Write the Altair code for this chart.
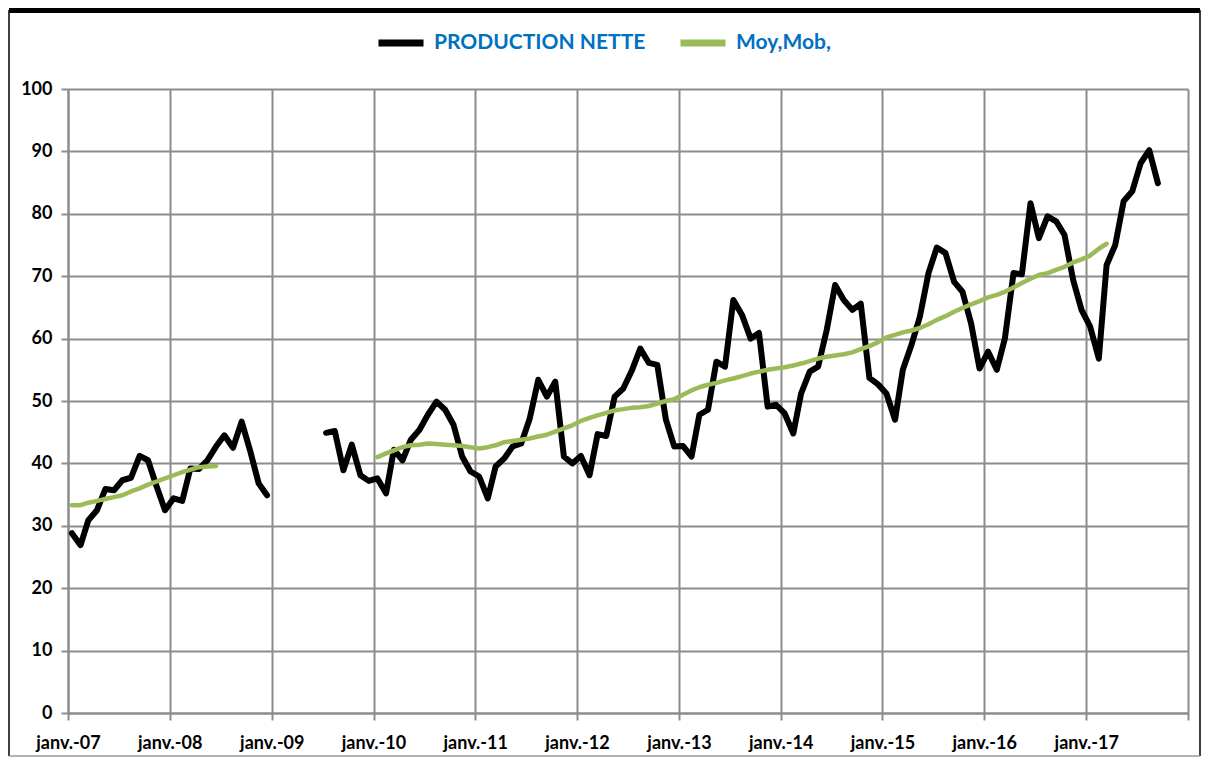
import altair as alt
import pandas as pd

# Monthly values starting janv.-07 (None = no data)
production_nette = [
    # 2007
    28.8, 26.9, 30.9, 32.5, 35.9, 35.7, 37.3, 37.7, 41.2, 40.5, 36.3, 32.5,
    # 2008
    34.4, 34.0, 39.2, 39.1, 40.5, 42.7, 44.5, 42.5, 46.7, 42.1, 36.8, 34.9,
    # 2009
    None, None, None, None, None, None, 44.9, 45.2, 38.9, 43.0, 38.1, 37.2,
    # 2010
    37.6, 35.2, 42.2, 40.5, 43.8, 45.4, 47.8, 49.9, 48.6, 46.2, 41.1, 38.7,
    # 2011
    37.9, 34.4, 39.5, 40.8, 42.7, 43.2, 47.1, 53.4, 50.7, 53.1, 41.1, 40.0,
    # 2012
    41.2, 38.1, 44.7, 44.4, 50.7, 52.0, 54.8, 58.4, 56.1, 55.8, 47.0, 42.7,
    # 2013
    42.8, 41.1, 47.8, 48.6, 56.3, 55.5, 66.2, 63.8, 60.0, 60.9, 49.1, 49.4,
    # 2014
    48.0, 44.8, 51.2, 54.7, 55.5, 61.4, 68.6, 66.2, 64.6, 65.6, 53.7, 52.7,
    # 2015
    51.2, 47.0, 55.0, 59.0, 63.5, 70.5, 74.6, 73.7, 69.1, 67.5, 62.4, 55.2,
    # 2016
    57.9, 55.0, 60.0, 70.5, 70.3, 81.7, 76.1, 79.6, 78.8, 76.6, 69.4, 64.6,
    # 2017
    61.9, 56.8, 71.8, 75.0, 82.0, 83.6, 88.1, 90.2, 84.9,
]

moy_mob = [
    # 2007
    33.3, 33.3, 33.7, 34.0, 34.3, 34.6, 34.9, 35.5, 36.0, 36.6, 37.1, 37.6,
    # 2008
    38.1, 38.6, 39.0, 39.4, 39.5, 39.6, None, None, None, None, None, None,
    # 2009
    None, None, None, None, None, None, None, None, None, None, None, None,
    # 2010
    41.0, 41.6, 42.1, 42.6, 42.9, 43.0, 43.2, 43.1, 43.0, 42.9, 42.8, 42.6,
    # 2011
    42.4, 42.6, 42.9, 43.4, 43.6, 43.8, 44.0, 44.3, 44.6, 45.1, 45.6, 46.1,
    # 2012
    46.8, 47.3, 47.7, 48.1, 48.5, 48.7, 48.9, 49.0, 49.2, 49.6, 50.0, 50.3,
    # 2013
    51.0, 51.7, 52.2, 52.6, 52.9, 53.3, 53.6, 54.0, 54.4, 54.7, 55.0, 55.2,
    # 2014
    55.4, 55.7, 56.0, 56.4, 56.8, 57.1, 57.3, 57.5, 57.8, 58.3, 58.8, 59.4,
    # 2015
    60.2, 60.6, 61.0, 61.3, 61.7, 62.3, 63.0, 63.6, 64.3, 64.9, 65.5, 66.0,
    # 2016
    66.6, 67.0, 67.5, 68.2, 68.9, 69.6, 70.2, 70.5, 71.0, 71.5, 72.2, 72.7,
    # 2017
    73.3, 74.4, 75.2,
]

series_names = ["PRODUCTION NETTE", "Moy,Mob,"]
series_colors = ["#000000", "#9BBB59"]
years = list(range(2007, 2019))
y_ticks = list(range(0, 101, 10))


def build(values, name):
    rows = []
    seg = 0
    gap = True
    for i, v in enumerate(values):
        if v is None:
            gap = True
            continue
        if gap:
            seg += 1
            gap = False
        yr = 2007 + i // 12
        mo = i % 12 + 1
        rows.append({"date": f"{yr}-{mo:02d}-15T00:00:00", "value": v,
                     "serie": name, "seg": f"{name}-{seg}"})
    return pd.DataFrame(rows)


df_prod = build(production_nette, series_names[0])
df_moy = build(moy_mob, series_names[1])

GRID = "#8c8c8c"

x_enc = alt.X(
    "date:T",
    scale=alt.Scale(domain=[alt.DateTime(year=2007, month=1, date=1),
                            alt.DateTime(year=2018, month=1, date=1)]),
    axis=alt.Axis(
        title=None,
        values=[alt.DateTime(year=y, month=1, date=1) for y in years],
        labelExpr="year(datum.value) < 2018 ? 'janv.-' + timeFormat(datum.value, '%y') : ''",
        labelPadding=14,
        labelFlush=False,
        labelOverlap=False,
        labelFontSize=18,
    ),
)
y_enc = alt.Y(
    "value:Q",
    scale=alt.Scale(domain=[0, 100], nice=False, zero=True),
    axis=alt.Axis(title=None, values=y_ticks, labelPadding=9),
)
color_enc = alt.Color(
    "serie:N",
    scale=alt.Scale(domain=series_names, range=series_colors),
    legend=alt.Legend(
        title=None,
        orient="none",
        direction="horizontal",
        legendX=307,
        legendY=-72,
        symbolType="stroke",
        symbolSize=2025,
        symbolStrokeWidth=7,
        labelFont="Lato",
        labelFontWeight="bold",
        labelFontSize=21,
        labelColor="#0070C0",
        labelOffset=7,
        labelLimit=400,
        columnPadding=20,
        padding=0,
    ),
)

line_prod = alt.Chart(df_prod).mark_line(
    strokeWidth=6, strokeJoin="round", strokeCap="round"
).encode(x=x_enc, y=y_enc, color=color_enc, detail="seg:N")

line_moy = alt.Chart(df_moy).mark_line(
    strokeWidth=4.5, strokeJoin="round", strokeCap="round"
).encode(x=x_enc, y=y_enc, color=color_enc, detail="seg:N")

one = alt.Data(values=[{"a": 1}])
frame_top = alt.Chart(one).mark_rule(color="black", strokeWidth=6).encode(
    x=alt.value(-59), x2=alt.value(1132), y=alt.value(-79))
frame_left = alt.Chart(one).mark_rule(color="black", strokeWidth=1.5).encode(
    x=alt.value(-59), y=alt.value(-79), y2=alt.value(667))
frame_right = alt.Chart(one).mark_rule(color="black", strokeWidth=1.5).encode(
    x=alt.value(1132), y=alt.value(-79), y2=alt.value(667))
frame_bottom = alt.Chart(one).mark_rule(color="#9a9a9a", strokeWidth=1.5).encode(
    x=alt.value(-59), x2=alt.value(1132), y=alt.value(667))

chart = alt.layer(
    line_prod, line_moy, frame_top, frame_left, frame_right, frame_bottom
).properties(
    width=1120,
    height=624,
    autosize=alt.AutoSizeParams(type="none"),
    padding={"left": 60, "top": 81, "right": 13, "bottom": 44},
    background="white",
).configure_view(
    stroke=None
).configure_axis(
    labelFont="Lato",
    labelFontWeight="bold",
    labelFontSize=18,
    labelColor="black",
    domainColor=GRID,
    domainWidth=2,
    tickColor=GRID,
    tickWidth=2,
    tickSize=7,
    gridColor=GRID,
    gridWidth=2,
    gridOpacity=1,
    grid=True,
)

chart.save("out.html", embed_options={"renderer": "svg", "actions": False})
